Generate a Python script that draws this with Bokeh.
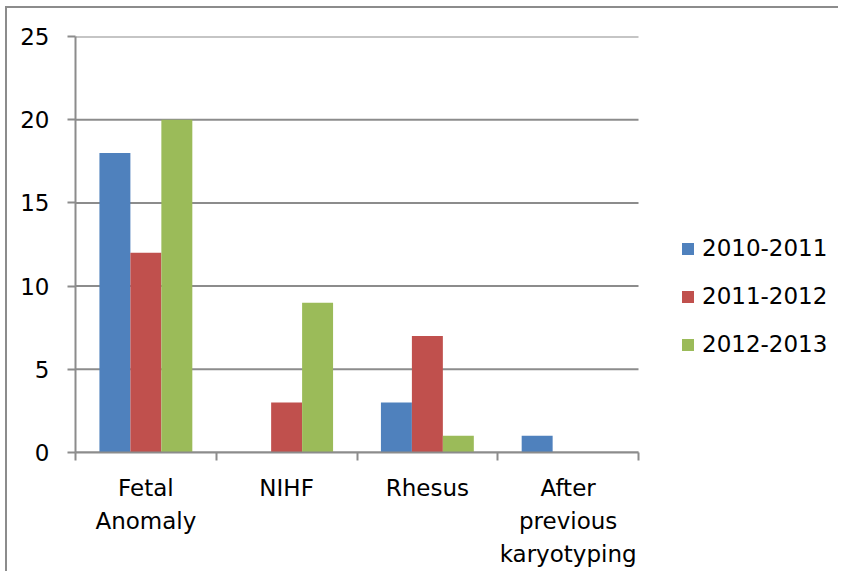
import numpy as np
from bokeh.plotting import figure
from bokeh.models import FixedTicker, Legend, LegendItem, Range1d
from bokeh.embed import file_html
from bokeh.resources import INLINE

categories = ["Fetal Anomaly", "NIHF", "Rhesus", "After previous karyotyping"]
tick_labels = ["Fetal\nAnomaly", "NIHF", "Rhesus", "After\nprevious\nkaryotyping"]
series_names = ["2010-2011", "2011-2012", "2012-2013"]
values_2010_2011 = [18, 0, 3, 1]
values_2011_2012 = [12, 3, 7, 0]
values_2012_2013 = [20, 9, 1, 0]
colors = ["#4F81BD", "#C0504D", "#9BBB59"]
y_ticks = [0, 5, 10, 15, 20, 25]

FONT = "DejaVu Sans"
FS = "23px"
GRID = "#8c8c8c"

plot_w = 563      # width of the category area in px
frame_w = 763     # frame extends under the legend area
ncat = len(categories)
x_end = ncat * frame_w / plot_w

p = figure(width=831, height=563, output_backend="svg", toolbar_location=None,
           x_range=Range1d(0, x_end), y_range=Range1d(0, 25),
           frame_width=frame_w, frame_height=416,
           min_border_left=68, min_border_right=0, min_border_top=28, min_border_bottom=119)
p.outline_line_color = None
p.background_fill_color = "white"
p.border_fill_color = "white"

# horizontal gridlines limited to the category area
p.segment(x0=0, x1=ncat, y0=y_ticks, y1=y_ticks, line_color=GRID, line_width=2)

idx = np.arange(ncat) + 0.5
bw = 0.22
renderers = []
for k, (vals, col) in enumerate(zip([values_2010_2011, values_2011_2012, values_2012_2013], colors)):
    r = p.vbar(x=idx + (k - 1) * bw, top=vals, width=bw, bottom=0, fill_color=col, line_color=None)
    renderers.append(r)

# x axis
xa = p.xaxis[0]
xa.bounds = (0, ncat)
xa.ticker = FixedTicker(ticks=list(idx), minor_ticks=list(range(ncat + 1)))
xa.major_label_overrides = {float(i): lab for i, lab in zip(idx, tick_labels)}
xa.major_tick_out = 0
xa.major_tick_in = 0
xa.minor_tick_out = 8
xa.minor_tick_in = 0
xa.minor_tick_line_color = GRID
xa.minor_tick_line_width = 2
xa.axis_line_color = GRID
xa.axis_line_width = 2
xa.major_label_text_font = FONT
xa.major_label_text_font_size = FS
xa.major_label_text_color = "black"
xa.major_label_text_line_height = 1.28
xa.major_label_standoff = 14
xa.major_label_text_align = "center"

ya = p.yaxis[0]
ya.ticker = FixedTicker(ticks=y_ticks)
ya.minor_tick_line_color = None
ya.major_tick_out = 8
ya.major_tick_in = 0
ya.major_tick_line_color = GRID
ya.major_tick_line_width = 2
ya.axis_line_color = GRID
ya.axis_line_width = 2
ya.major_label_text_font = FONT
ya.major_label_text_font_size = FS
ya.major_label_text_color = "black"
ya.major_label_standoff = 18

p.xgrid.grid_line_color = None
p.ygrid.grid_line_color = None

legend = Legend(items=[LegendItem(label=n, renderers=[r]) for n, r in zip(series_names, renderers)],
                location=(605, 95), orientation="vertical",
                glyph_width=15, glyph_height=15, label_standoff=7, spacing=22,
                padding=0, margin=0, border_line_color=None, background_fill_alpha=0,
                label_text_font=FONT, label_text_font_size=FS, label_text_color="black")
p.add_layout(legend, "center")

p.styles = {"border-left": "2px solid #8c8c8c", "border-top": "2px solid #8c8c8c",
            "margin-left": "5px", "margin-top": "6px"}

open("out.html", "w").write(file_html(p, INLINE))
